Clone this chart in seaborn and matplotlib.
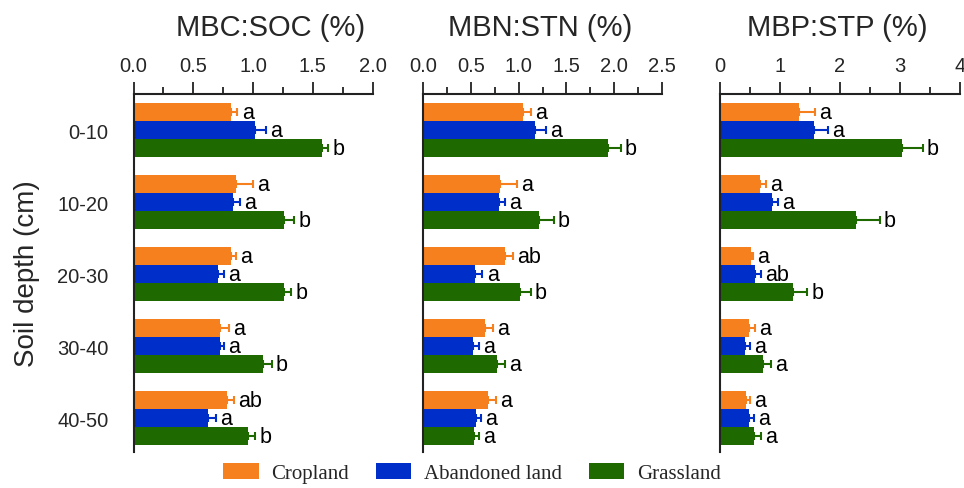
import matplotlib
matplotlib.use("Agg")
import matplotlib.pyplot as plt
import numpy as np
import pandas as pd
import seaborn as sns
from matplotlib.ticker import MultipleLocator
from matplotlib.patches import Patch

# ---- data -----------------------------------------------------------------
depths = ["0-10", "10-20", "20-30", "30-40", "40-50"]
land_uses = ["Cropland", "Abandoned land", "Grassland"]

# MBC:SOC (%)
mbc_soc_crop = [0.82, 0.86, 0.815, 0.72, 0.785]
mbc_soc_aband = [1.02, 0.83, 0.71, 0.72, 0.62]
mbc_soc_grass = [1.58, 1.26, 1.26, 1.085, 0.955]
mbc_soc_crop_se = [0.05, 0.14, 0.045, 0.08, 0.055]
mbc_soc_aband_se = [0.085, 0.06, 0.05, 0.04, 0.07]
mbc_soc_grass_se = [0.05, 0.085, 0.06, 0.07, 0.065]
mbc_soc_crop_sig = ["a", "a", "a", "a", "ab"]
mbc_soc_aband_sig = ["a", "a", "a", "a", "a"]
mbc_soc_grass_sig = ["b", "b", "b", "b", "b"]

# MBN:STN (%)
mbn_stn_crop = [1.05, 0.81, 0.86, 0.65, 0.68]
mbn_stn_aband = [1.17, 0.80, 0.545, 0.52, 0.55]
mbn_stn_grass = [1.94, 1.215, 1.015, 0.77, 0.535]
mbn_stn_crop_se = [0.08, 0.175, 0.077, 0.084, 0.083]
mbn_stn_aband_se = [0.115, 0.06, 0.077, 0.066, 0.056]
mbn_stn_grass_se = [0.128, 0.153, 0.111, 0.086, 0.052]
mbn_stn_crop_sig = ["a", "a", "ab", "a", "a"]
mbn_stn_aband_sig = ["a", "a", "a", "a", "a"]
mbn_stn_grass_sig = ["b", "b", "b", "a", "a"]

# MBP:STP (%)
mbp_stp_crop = [1.32, 0.67, 0.51, 0.48, 0.44]
mbp_stp_aband = [1.57, 0.87, 0.59, 0.41, 0.49]
mbp_stp_grass = [3.04, 2.26, 1.21, 0.71, 0.57]
mbp_stp_crop_se = [0.26, 0.09, 0.045, 0.095, 0.067]
mbp_stp_aband_se = [0.23, 0.09, 0.095, 0.09, 0.078]
mbp_stp_grass_se = [0.34, 0.40, 0.24, 0.145, 0.117]
mbp_stp_crop_sig = ["a", "a", "a", "a", "a"]
mbp_stp_aband_sig = ["a", "a", "ab", "a", "a"]
mbp_stp_grass_sig = ["b", "b", "b", "a", "a"]

titles = ["MBC:SOC (%)", "MBN:STN (%)", "MBP:STP (%)"]
x_limits = [(0, 2.0), (0, 2.5), (0, 4)]
x_major = [0.5, 0.5, 1]
x_tick_fmt = ["{:.1f}", "{:.1f}", "{:.0f}"]

colors = ["#F7801E", "#002EC8", "#1E6A00"]

panels = [
    ((mbc_soc_crop, mbc_soc_aband, mbc_soc_grass),
     (mbc_soc_crop_se, mbc_soc_aband_se, mbc_soc_grass_se),
     (mbc_soc_crop_sig, mbc_soc_aband_sig, mbc_soc_grass_sig)),
    ((mbn_stn_crop, mbn_stn_aband, mbn_stn_grass),
     (mbn_stn_crop_se, mbn_stn_aband_se, mbn_stn_grass_se),
     (mbn_stn_crop_sig, mbn_stn_aband_sig, mbn_stn_grass_sig)),
    ((mbp_stp_crop, mbp_stp_aband, mbp_stp_grass),
     (mbp_stp_crop_se, mbp_stp_aband_se, mbp_stp_grass_se),
     (mbp_stp_crop_sig, mbp_stp_aband_sig, mbp_stp_grass_sig)),
]

# ---- style ----------------------------------------------------------------
sns.set_style("white")
plt.rcParams["font.family"] = ["Liberation Sans", "DejaVu Sans"]

W, H = 964, 489
fig = plt.figure(figsize=(W / 100, H / 100), dpi=100)

ax_left_px = [133.5, 423, 720]
ax_width_px = [239, 239, 240]
ax_top_px, ax_bot_px = 95, 453
title_x = [0.575, 0.49, 0.49]

for i, (means, errs, sigs) in enumerate(panels):
    ax = fig.add_axes([ax_left_px[i] / W, 1 - ax_bot_px / H,
                       ax_width_px[i] / W, (ax_bot_px - ax_top_px) / H])

    df = pd.DataFrame({
        "depth": np.repeat([depths], 3, axis=0).ravel(),
        "land": np.repeat(land_uses, len(depths)),
        "value": np.concatenate(means),
    })
    sns.barplot(data=df, x="value", y="depth", hue="land", orient="h",
                order=depths, hue_order=land_uses, palette=colors,
                saturation=1, width=0.75, errorbar=None, legend=False,
                ax=ax, edgecolor="none", linewidth=0)

    # one-sided error bars and significance letters
    for container, err, sig, col in zip(ax.containers, errs, sigs, colors):
        xs = np.array([b.get_width() for b in container])
        ys = np.array([b.get_y() + b.get_height() / 2 for b in container])
        e = np.asarray(err)
        ax.errorbar(xs, ys, xerr=[np.zeros_like(e), e], fmt="none",
                    ecolor=col, elinewidth=1.5, capsize=3.2, capthick=1.5,
                    zorder=1)
        for x, y, s in zip(xs + e, ys, sig):
            ax.annotate(s, (x, y), xytext=(3, 0), textcoords="offset points",
                        ha="left", va="center", fontsize=15.5, color="black")

    ax.set_xlim(*x_limits[i])
    ax.set_ylim(4.47, -0.5)

    ax.xaxis.tick_top()
    ax.xaxis.set_major_locator(MultipleLocator(x_major[i]))
    ax.xaxis.set_minor_locator(MultipleLocator(x_major[i] / 2))
    ax.set_xticklabels([x_tick_fmt[i].format(t) for t in ax.get_xticks()])
    ax.tick_params(axis="x", which="major", top=True, bottom=False,
                   labeltop=True, labelbottom=False, direction="out",
                   length=9, width=1.3, pad=5, labelsize=14.5, color="#222222")
    ax.tick_params(axis="x", which="minor", top=True, bottom=False,
                   direction="out", length=5, width=1.3, color="#222222")
    ax.set_xlabel("")

    for side in ("right", "bottom"):
        ax.spines[side].set_visible(False)
    for side in ("top", "left"):
        ax.spines[side].set_visible(True)
        ax.spines[side].set_linewidth(1.5)
        ax.spines[side].set_color("#222222")

    ax.text(title_x[i], 1.165, titles[i], transform=ax.transAxes,
            ha="center", va="baseline", fontsize=21)

    if i == 0:
        ax.tick_params(axis="y", length=0, pad=18, labelsize=14.5)
        ax.set_ylabel("Soil depth (cm)", fontsize=20, labelpad=12)
    else:
        ax.tick_params(axis="y", length=0, labelleft=False)
        ax.set_ylabel("")

handles = [Patch(facecolor=c, edgecolor="none", label=l)
           for c, l in zip(colors, land_uses)]
fig.legend(handles=handles, loc="center", bbox_to_anchor=(472 / W, 1 - 474 / H),
           ncol=3, frameon=False,
           prop={"family": "Liberation Serif", "size": 15},
           handlelength=1.7, handleheight=0.8, handletextpad=0.6,
           columnspacing=1.3)

fig.savefig("out.png", dpi=100, facecolor="white")
